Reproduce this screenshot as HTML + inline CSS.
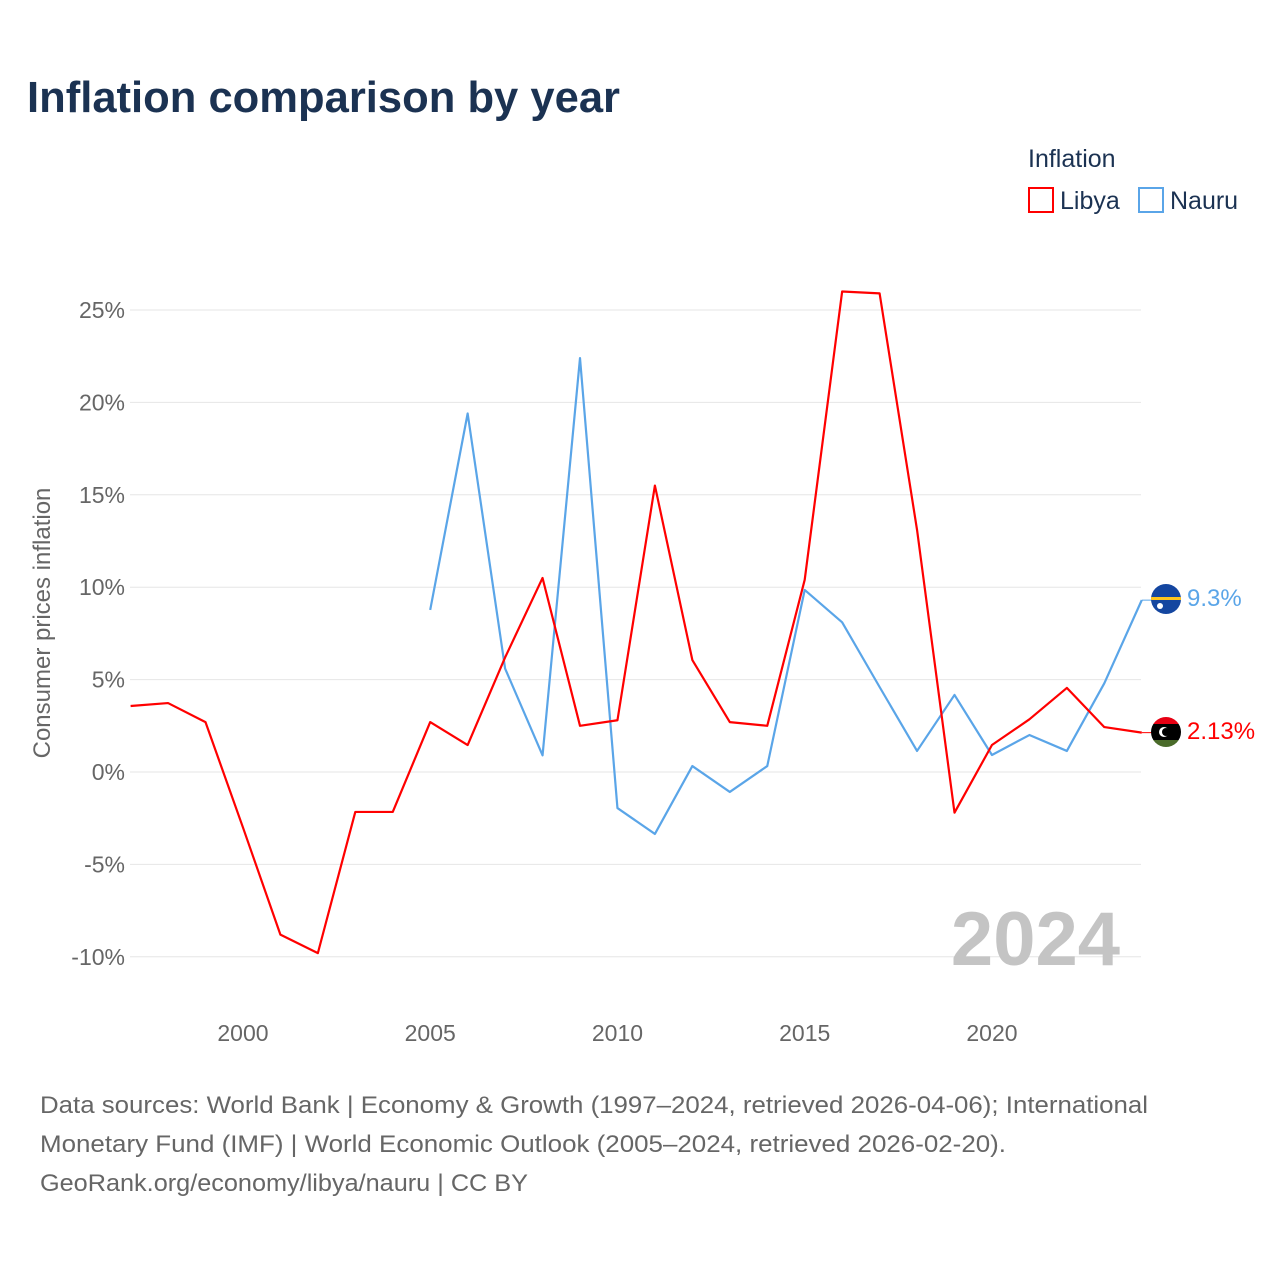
<!DOCTYPE html>
<html><head><meta charset="utf-8"><style>
body{margin:0;background:#fff;font-family:"Liberation Sans",sans-serif;}
</style></head><body>
<svg width="1280" height="1280" xmlns="http://www.w3.org/2000/svg" style="font-family:'Liberation Sans',sans-serif">
<text x="27" y="112" font-size="44" font-weight="bold" fill="#1b3252" textLength="593" lengthAdjust="spacingAndGlyphs">Inflation comparison by year</text>
<g>
<text x="1028" y="167" font-size="25" fill="#1b3252">Inflation</text>
<g><rect x="1029" y="188" width="24" height="24" fill="none" stroke="#ff0000" stroke-width="2"/><text x="1060" y="209" font-size="25" fill="#1b3252">Libya</text></g>
<g><rect x="1139" y="188" width="24" height="24" fill="none" stroke="#5aa5e8" stroke-width="2"/><text x="1170" y="209" font-size="25" fill="#1b3252">Nauru</text></g>
</g>
<g id="grid"></g><g id="yt"></g><g id="xt"></g><g id="lines"></g>
<text transform="translate(50,623) rotate(-90)" text-anchor="middle" font-size="24" fill="#666">Consumer prices inflation</text>
<text x="1120" y="965" text-anchor="end" font-size="76" font-weight="bold" fill="#c4c4c4">2024</text>
<g><clipPath id="cn"><circle cx="1166" cy="599" r="15"/></clipPath><g clip-path="url(#cn)"><rect x="1150" y="583" width="32" height="32" fill="#1446a0"/><rect x="1150" y="597" width="32" height="3" fill="#ffc61e"/><circle cx="1160" cy="606" r="3" fill="#fff"/></g></g>
<g><clipPath id="cl"><circle cx="1166" cy="732" r="15"/></clipPath><g clip-path="url(#cl)"><rect x="1150" y="716" width="32" height="8" fill="#e70013"/><rect x="1150" y="724" width="32" height="16" fill="#000"/><rect x="1150" y="740" width="32" height="8" fill="#4a6b2a"/><circle cx="1164" cy="732" r="5" fill="#fff"/><circle cx="1166" cy="732" r="4" fill="#000"/></g></g>
<text x="1187" y="606" font-size="24" fill="#5aa5e8">9.3%</text>
<text x="1187" y="739" font-size="24" fill="#ff0000">2.13%</text>
<g font-size="24" fill="#666">
<text x="40" y="1113" textLength="1108" lengthAdjust="spacingAndGlyphs">Data sources: World Bank | Economy &amp; Growth (1997–2024, retrieved 2026-04-06); International</text>
<text x="40" y="1152" textLength="966" lengthAdjust="spacingAndGlyphs">Monetary Fund (IMF) | World Economic Outlook (2005–2024, retrieved 2026-02-20).</text>
<text x="40" y="1191" textLength="488" lengthAdjust="spacingAndGlyphs">GeoRank.org/economy/libya/nauru | CC BY</text>
</g>
</svg>
<script>
const libyaYears=[1997,1998,1999,2000,2001,2002,2003,2004,2005,2006,2007,2008,2009,2010,2011,2012,2013,2014,2015,2016,2017,2018,2019,2020,2021,2022,2023,2024];
const libyaValues=[3.57,3.73,2.7,-3.0,-8.8,-9.8,-2.16,-2.16,2.7,1.46,6.2,10.5,2.5,2.8,15.5,6.06,2.7,2.5,10.4,26.0,25.9,13.1,-2.2,1.46,2.85,4.55,2.43,2.13];
const nauruYears=[2005,2006,2007,2008,2009,2010,2011,2012,2013,2014,2015,2016,2017,2018,2019,2020,2021,2022,2023,2024];
const nauruValues=[8.77,19.4,5.6,0.9,22.4,-1.95,-3.35,0.32,-1.08,0.32,9.85,8.1,4.6,1.14,4.17,0.92,2.0,1.14,4.8,9.3];
const yTicks=[-10,-5,0,5,10,15,20,25];
const xTicks=[2000,2005,2010,2015,2020];
const NS="http://www.w3.org/2000/svg";
const xs=y=>130.6+(y-1997)*37.45;
const ys=v=>772-v*18.48;
const mk=(t,a)=>{const e=document.createElementNS(NS,t);for(const k in a)e.setAttribute(k,a[k]);return e;};
const grid=document.getElementById('grid'),yt=document.getElementById('yt'),xt=document.getElementById('xt'),lines=document.getElementById('lines');
yTicks.forEach(v=>{
 const l=mk('line',{x1:130,x2:1141,y1:ys(v),y2:ys(v),stroke:'#e6e6e6','stroke-width':1});
 
 
 grid.appendChild(l);
 const t=mk('text',{x:125,y:ys(v)+8,'text-anchor':'end','font-size':23,fill:'#666'});
 t.textContent=v+'%';
 
 
 yt.appendChild(t);
});
xTicks.forEach(y=>{
 const t=mk('text',{x:xs(y),y:1041,'text-anchor':'middle','font-size':23,fill:'#666'});
 t.textContent=y;
 
 
 xt.appendChild(t);
});
function line(years,vals,color,name){
 const p=mk('polyline',{points:years.map((y,i)=>xs(y)+','+ys(vals[i])).join(' '),fill:'none',stroke:color,'stroke-width':2.2,'stroke-linejoin':'round'});
 
 
 lines.appendChild(p);
 const last=years.length-1;
 const c=mk('line',{x1:xs(years[last]),y1:ys(vals[last]),x2:1152,y2:ys(vals[last]),stroke:color,'stroke-width':1});
 
 
 lines.appendChild(c);
}
line(nauruYears,nauruValues,'#5aa5e8','line-nauru');
line(libyaYears,libyaValues,'#ff0000','line-libya');
</script>
</body></html>
